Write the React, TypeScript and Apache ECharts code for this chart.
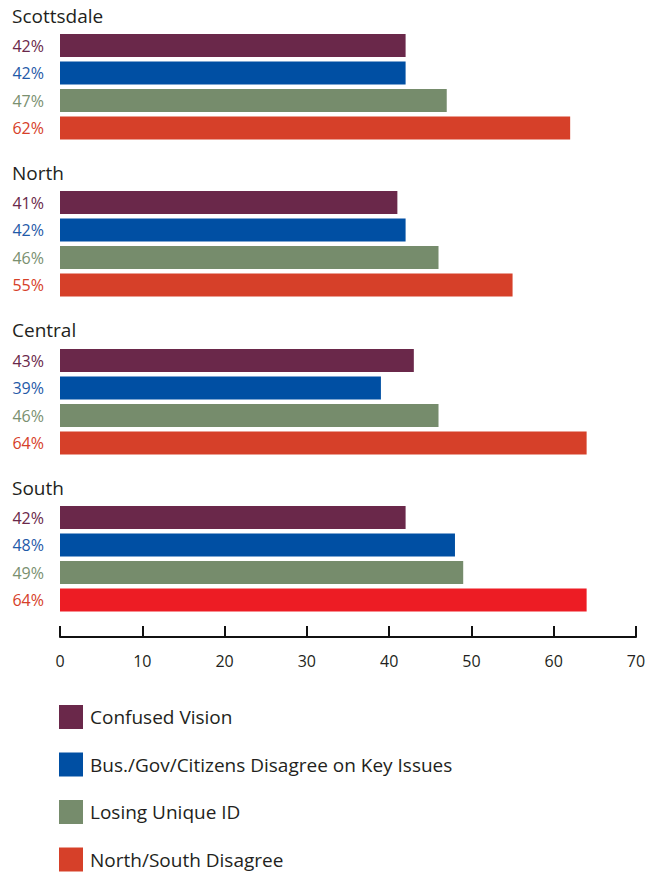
import React, { useEffect, useRef } from "react";
import * as echarts from "echarts";

const groups = ["Scottsdale", "North", "Central", "South"];
const seriesNames = [
  "Confused Vision",
  "Bus./Gov/Citizens Disagree on Key Issues",
  "Losing Unique ID",
  "North/South Disagree",
];
const scottsdale = [42, 42, 47, 62];
const north = [41, 42, 46, 55];
const central = [43, 39, 46, 64];
const south = [42, 48, 49, 64];
const groupValues = [scottsdale, north, central, south];
const axisTicks = [0, 10, 20, 30, 40, 50, 60, 70];

const barColors = ["#6a284a", "#004fa3", "#768c6c", "#d64029"];
const labelColors = ["#6a284a", "#1f5aa8", "#7a9070", "#d64029"];
const FONT = "'Open Sans', 'Noto Sans', sans-serif";

export default function App() {
  const ref = useRef<HTMLDivElement>(null);
  useEffect(() => {
    if (!ref.current) return;
    const chart = echarts.init(ref.current, undefined, { renderer: "svg" });
    const gridTops = [31.75, 188.75, 346.75, 503.75];
    const titleYs = [18, 175, 332, 490];
    const grids: any[] = gridTops.map((t) => ({ left: 60, right: 20, top: t, height: 110 }));
    grids.push({ left: 60, right: 20, top: 600, height: 37 });
    const xAxes: any[] = groups.map((_, g) => ({
      type: "value", gridIndex: g, min: 0, max: 70, interval: 10, show: false,
    }));
    xAxes.push({
      type: "value", gridIndex: 4, min: 0, max: 70, interval: 10, position: "bottom",
      axisLine: { show: true, lineStyle: { color: "#111", width: 2 } },
      axisTick: { show: true, inside: true, length: 11, lineStyle: { color: "#111", width: 2 } },
      splitLine: { show: false },
      axisLabel: { color: "#231f20", fontSize: 16, fontFamily: FONT, margin: 16,
        formatter: (v: number) => (axisTicks.includes(v) ? String(v) : "") },
    });
    const yAxes: any[] = groups.map((_, g) => ({
      type: "category", gridIndex: g, inverse: true, show: false, data: seriesNames,
    }));
    yAxes.push({ type: "category", gridIndex: 4, show: false, data: [""] });
    const series: any[] = [];
    groups.forEach((grp, g) => {
      seriesNames.forEach((name, s) => {
        const data = seriesNames.map((_, i) => {
          if (i !== s) return "-";
          const v = groupValues[g][s];
          if (grp === "South" && s === 3) return { value: v, itemStyle: { color: "#ed1c24" } };
          return v;
        });
        series.push({
          type: "bar", name, xAxisIndex: g, yAxisIndex: g, data,
          barWidth: 23, barGap: "-100%",
          itemStyle: { color: barColors[s] },
          label: { show: true, position: "left", distance: 16, formatter: "{c}%",
            color: labelColors[s], fontSize: 16, fontFamily: FONT },
        });
      });
    });
    chart.setOption({
      animation: false,
      grid: grids,
      xAxis: xAxes,
      yAxis: yAxes,
      series,
      legend: {
        orient: "vertical", left: 59, top: 705, padding: 0, itemWidth: 24, itemHeight: 24,
        itemGap: 23.5, height: 170, width: 500,
        icon: "rect", data: seriesNames, selectedMode: false,
        textStyle: { color: "#231f20", fontSize: 19, fontFamily: FONT, padding: [0, 0, 0, 2] },
      },
      graphic: groups.map((grp, g) => ({
        type: "text", left: 12, top: titleYs[g] - 12,
        style: { text: grp, fill: "#231f20", fontSize: 19, fontFamily: FONT },
      })),
    });
    return () => chart.dispose();
  }, []);
  return (
    <div
      ref={ref}
      style={{ position: "absolute", left: 0, top: 0, width: 656, height: 873, overflow: "hidden" }}
    />
  );
}
